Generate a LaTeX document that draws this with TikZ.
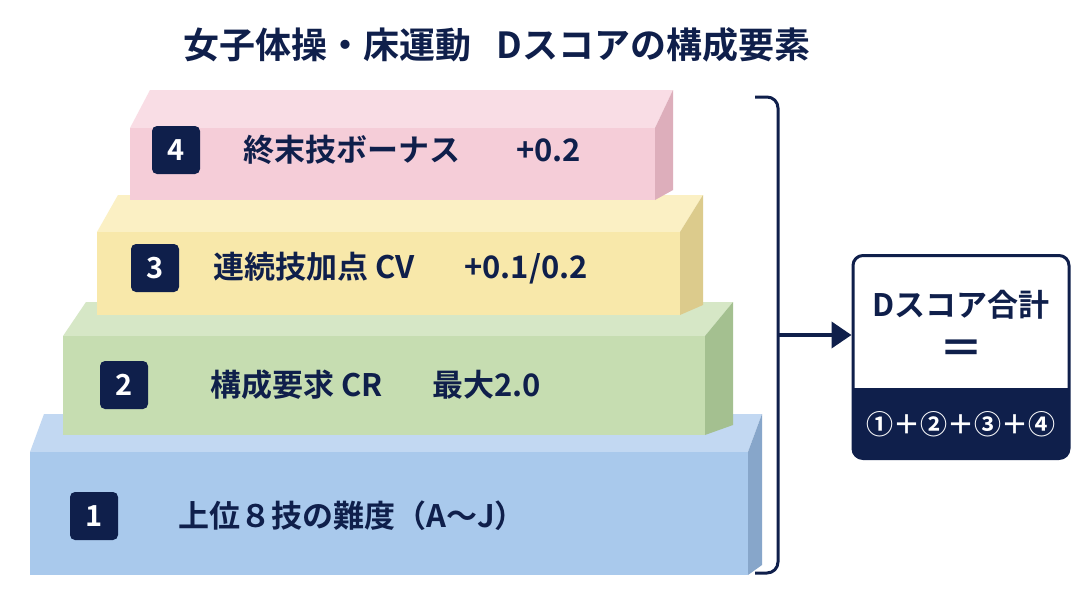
\documentclass[tikz,border=0pt]{standalone}
\usepackage{fontspec}
\setmainfont{Noto Sans CJK JP}[BoldFont={* Bold}]
\usetikzlibrary{arrows.meta}
\definecolor{navy}{HTML}{0F1F4B}
\definecolor{pinkF}{HTML}{F5CDD8}\definecolor{pinkT}{HTML}{F9DDE5}\definecolor{pinkS}{HTML}{DDAEBB}
\definecolor{yelF}{HTML}{F8E8AA}\definecolor{yelT}{HTML}{FBF0C4}\definecolor{yelS}{HTML}{DCCB8C}
\definecolor{grnF}{HTML}{C6DDB1}\definecolor{grnT}{HTML}{D6E7C6}\definecolor{grnS}{HTML}{A4C090}
\definecolor{bluF}{HTML}{A9C9EC}\definecolor{bluT}{HTML}{C2D8F2}\definecolor{bluS}{HTML}{87A6CA}
\tikzset{
 badge/.style={fill=navy,rounded corners=5pt,minimum size=48pt,text=white,font=\bfseries\fontsize{29}{29}\selectfont,inner sep=0pt},
 lbl/.style={anchor=west,text=navy,font=\bfseries\fontsize{31}{31}\selectfont,inner sep=0pt},
}
\begin{document}
\begin{tikzpicture}[x=1pt,y=-1pt]
\fill[white] (0,0) rectangle (1088,608);
\useasboundingbox (0,0) rectangle (1088,608);
\node[text=navy,font=\bfseries\fontsize{36}{36}\selectfont] (title) at (497,45) {女子体操・床運動\hspace{0.7em}Dスコアの構成要素};
% block 1
\fill[bluT] (30,452) -- (44,414) -- (762,414) -- (748,452) -- cycle;
\fill[bluS] (748,452) -- (762,414) -- (762,565) -- (748,575) -- cycle;
\fill[bluF] (30,452) rectangle (748,575);
% block 2
\fill[grnT] (63,336) -- (86,302) -- (733,302) -- (705,336) -- cycle;
\fill[grnS] (705,336) -- (733,302) -- (733,425) -- (705,435) -- cycle;
\fill[grnF] (63,336) rectangle (705,435);
% block 3
\fill[yelT] (97,232) -- (118,195) -- (703,195) -- (680,232) -- cycle;
\fill[yelS] (680,232) -- (703,195) -- (703,305) -- (680,315) -- cycle;
\fill[yelF] (97,232) rectangle (680,315);
% block 4
\fill[pinkT] (130,128) -- (150,90) -- (673,90) -- (655,128) -- cycle;
\fill[pinkS] (655,128) -- (673,90) -- (673,190) -- (655,200) -- cycle;
\fill[pinkF] (130,128) rectangle (655,200);
% badges & labels
\node[badge] (b4) at (176,150) {4};
\node[lbl] (t4) at (243,150) {終末技ボーナス\hspace{1.8em}+0.2};
\node[badge] (b3) at (155,268) {3};
\node[lbl] (t3) at (213,268) {連続技加点 CV\hspace{1.6em}+0.1/0.2};
\node[badge] (b2) at (124,385) {2};
\node[lbl] (t2) at (210,385) {構成要求 CR\hspace{1.6em}最大2.0};
\node[badge] (b1) at (94,516) {1};
\node[lbl] (t1) at (178,516) {上位８技の難度（A〜J）};
% bracket
\draw[navy,line width=3pt] (755,97) -- (767,97) arc[start angle=-90,end angle=0,radius=11] -- (778,562) arc[start angle=0,end angle=90,radius=11] -- (755,573);
\coordinate (br) at (778,335);
% result box
\node[draw=navy,line width=3pt,fill=white,rounded corners=10pt,minimum width=216pt,minimum height=203pt] (box) at (961,357) {};
\fill[navy,rounded corners=9pt] (852,388) -- (852,458.5) -- (1069.5,458.5) -- (1069.5,388) [sharp corners] -- cycle;
\fill[navy] (852,388) rectangle (1069.5,420);
\node[text=navy,font=\bfseries\fontsize{31}{31}\selectfont] (sum) at (961,305) {Dスコア合計};
\node[text=navy,font=\bfseries\fontsize{44}{44}\selectfont] (eq) at (961,352) {＝};
\node[text=white,font=\bfseries\fontsize{27}{27}\selectfont] (f) at (961,424) {①＋②＋③＋④};
\draw[navy,line width=4pt,-{Triangle[length=20pt,width=26pt]}] (br) -- (box.west |- br);
\end{tikzpicture}
\end{document}
